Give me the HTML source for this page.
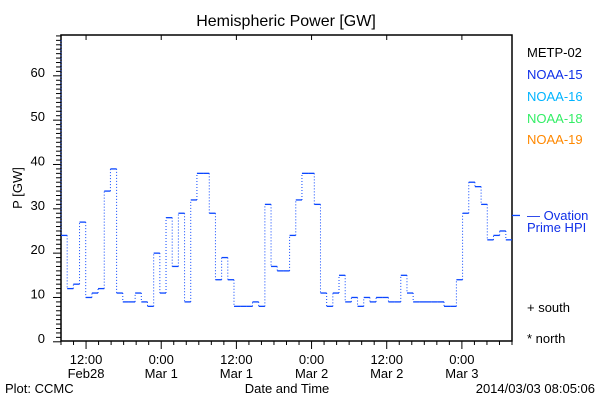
<!DOCTYPE html>
<html><head><meta charset="utf-8"><style>
body{margin:0;background:#fff}
svg{display:block;font-family:"Liberation Sans",sans-serif}
</style></head><body>
<svg id="chart" width="600" height="400" viewBox="0 0 600 400">
<rect width="600" height="400" fill="#fff"/>
<text x="286" y="26" font-size="16" text-anchor="middle">Hemispheric Power [GW]</text>
<rect x="61" y="35" width="451" height="306" fill="none" stroke="#000" stroke-width="1.5"/>
<g id="yaxis"></g>
<g id="xaxis"></g>
<g id="series"></g>
<text transform="translate(22,188) rotate(-90)" font-size="13" text-anchor="middle">P [GW]</text>
<text x="287" y="393" font-size="13" text-anchor="middle">Date and Time</text>
<text x="5" y="393" font-size="13">Plot: CCMC</text>
<text x="595" y="393" font-size="13" text-anchor="end">2014/03/03 08:05:06</text>
<g font-size="13">
<text x="527" y="57" fill="#000">METP-02</text>
<text x="527" y="79" fill="#1030e8">NOAA-15</text>
<text x="527" y="101" fill="#00b4ff">NOAA-16</text>
<text x="527" y="123" fill="#33ee66">NOAA-18</text>
<text x="527" y="144" fill="#ff8800">NOAA-19</text>
<text x="527" y="220" fill="#1030e8">— Ovation</text>
<text x="527" y="232" fill="#1030e8">Prime HPI</text>
<text x="527" y="312" fill="#000">+ south</text>
<text x="527" y="343" fill="#000">* north</text>
</g>
</svg>
<script>
const values=[24,12,13,27,10,11,12,34,39,11,9,9,11,9,8,20,11,28,17,29,9,32,38,38,29,14,19,14,8,8,8,9,8,31,17,16,16,24,32,38,38,31,11,8,11,15,9,10,8,10,9,10,10,9,9,15,11,9,9,9,9,9,8,8,14,29,36,35,31,23,24,25,23];
const startValue=68;
const hpiValue=28.5;
const xTickLabels=[["12:00","Feb28"],["0:00","Mar 1"],["12:00","Mar 1"],["0:00","Mar 2"],["12:00","Mar 2"],["0:00","Mar 3"]];
const xTickHours=[4,16,28,40,52,64];
const yTicks=[0,10,20,30,40,50,60];
const NS="http://www.w3.org/2000/svg";
const X0=61,X1=512,HOURS=72,Y0=341.8,PER=4.433;
const xs=h=>X0+(X1-X0)*h/HOURS;
const xi=i=>X0+(X1-X0)*i/values.length;
const ys=v=>Y0-PER*v;
function mk(tag,attrs,parent){const e=document.createElementNS(NS,tag);for(const k in attrs)e.setAttribute(k,attrs[k]);parent.appendChild(e);return e;}
const ya=document.getElementById('yaxis'),xa=document.getElementById('xaxis'),sg=document.getElementById('series');
for(let v=0;v<=69;v++){const y=ys(v);const major=v%10===0;
 const t=mk('line',{x1:61-(major?8:5),x2:61,y1:y,y2:y,stroke:'#000'},ya);
 
 }
yTicks.forEach(v=>{const t=mk('text',{x:45,y:ys(v)+1,'font-size':13,'text-anchor':'end'},ya);t.textContent=v;
 
 });
for(let h=0;h<=HOURS;h+=2){const x=xs(h);const major=(h-4)%12===0;
 const t=mk('line',{x1:x,x2:x,y1:341,y2:341+(major?8:4),stroke:'#000'},xa);
 
 
 if(major){const u=mk('line',{x1:x,x2:x,y1:35,y2:40,stroke:'#000'},xa);
 
 }}
xTickHours.forEach((h,i)=>{const t=mk('text',{x:xs(h),y:364,'font-size':13,'text-anchor':'middle'},xa);t.textContent=xTickLabels[i][0];
 
 
 const t2=mk('text',{x:xs(h),y:378,'font-size':13,'text-anchor':'middle'},xa);t2.textContent=xTickLabels[i][1];
 
 });
const C='#0a46ff';
let prev=startValue;
values.forEach((v,i)=>{const xa0=xi(i),xb=xi(i+1);
 const d=mk('line',{x1:xa0,x2:xa0,y1:ys(prev),y2:ys(v),stroke:C,'stroke-width':1,'stroke-dasharray':'1,2'},sg);
 
 
 const s=mk('line',{x1:xa0,x2:xb,y1:ys(v),y2:ys(v),stroke:C,'stroke-width':1.3},sg);
 
 
 prev=v;});
const hp=mk('line',{x1:512,x2:520,y1:ys(hpiValue),y2:ys(hpiValue),stroke:C,'stroke-width':1.3},sg);


</script>
</body></html>
